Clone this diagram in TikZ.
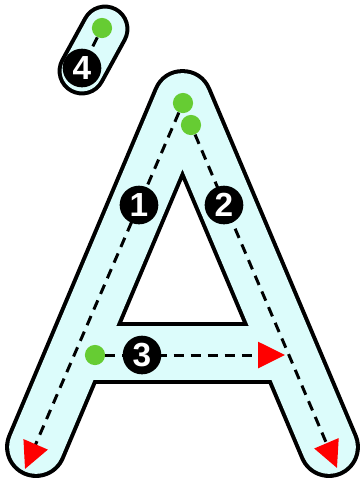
\documentclass[tikz,border=0pt]{standalone}
\usepackage{fontspec}
\setmainfont{Liberation Sans}
\usetikzlibrary{arrows.meta}
\definecolor{glyphfill}{HTML}{DCFCFB}
\definecolor{startgreen}{HTML}{66CC33}

\begin{document}
\begin{tikzpicture}[x=0.02cm, y=-0.02cm,
    startdot/.style={circle, fill=startgreen, inner sep=0pt, minimum size=11.5pt},
    numdot/.style={circle, fill=black, text=white, inner sep=0pt, minimum size=22pt,
        font=\fontsize{19}{19}\selectfont\bfseries},
    trace/.style={line width=1.7pt, dash pattern=on 5.7pt off 4pt},
    tracearrow/.style={trace, -{Triangle[length=15.3pt, width=14.7pt, color=red]}}]
    \useasboundingbox (0,0) rectangle (361,485);

    % Letter body: black stroke, then the fill on top
    \coordinate (apex) at (182.5,100);
    \coordinate (foot l) at (36,447);
    \coordinate (foot r) at (329,447);
    \coordinate (bar l) at (75.7,353);
    \coordinate (bar r) at (289.3,353);
    \coordinate (acc top) at (105,29);
    \coordinate (acc bot) at (82,71);
    \foreach \w/\v/\c in {35.2pt/27.8pt/black, 30.6pt/23.2pt/glyphfill} {
        \draw[line width=\w, color=\c, line cap=round, line join=round] (foot l) -- (apex) -- (foot r);
        \draw[line width=\w, color=\c] (bar l) -- (bar r);
        \draw[line width=\v, color=\c, line cap=round] (acc top) -- (acc bot);
    }

    % Start points and stroke ends
    \node[startdot] (s1) at (183,103) {};
    \node[startdot] (s2) at (191,125) {};
    \node[startdot] (s3) at (95,355) {};
    \node[startdot] (s4) at (102,28) {};
    \coordinate (e1) at (25,469);
    \coordinate (e2) at (337,468);
    \coordinate (e3) at (285,355);
    \coordinate (p1) at (139,205);
    \coordinate (p2) at (224,205);
    \coordinate (p3) at (142,355);
    \coordinate (p4) at (82,68);

    % Dashed strokes
    \draw[tracearrow] (s1) -- (e1);
    \draw[tracearrow] (s2) -- (e2);
    \draw[tracearrow] (s3) -- (e3);
    \draw[trace] (s4) -- (p4);

    % Stroke numbers
    \node[numdot] (n1) at (p1) {1};
    \node[numdot] (n2) at (p2) {2};
    \node[numdot] (n3) at (p3) {3};
    \node[numdot] (n4) at (p4) {4};
\end{tikzpicture}
\end{document}
